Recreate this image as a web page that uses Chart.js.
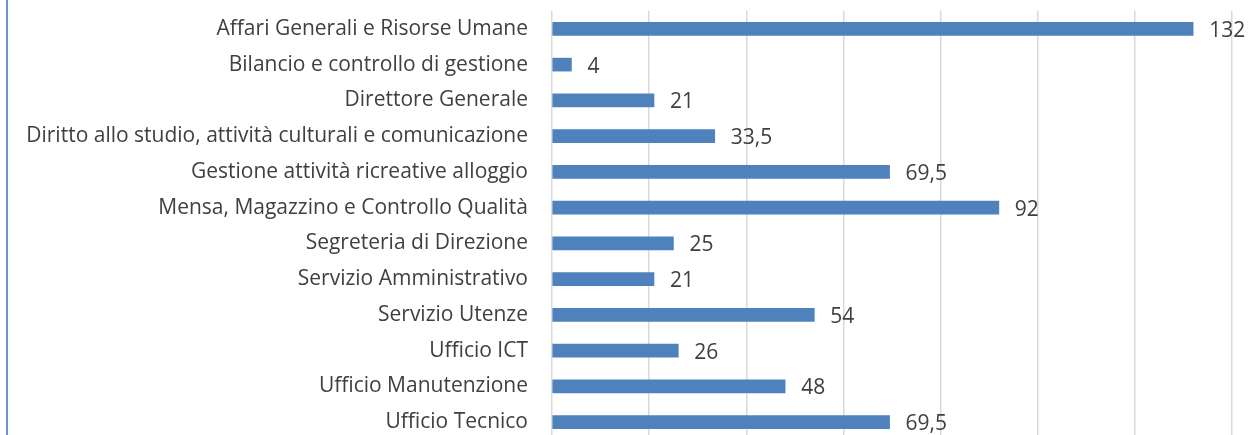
<!DOCTYPE html>
<html>
<head>
<meta charset="utf-8">
<script src="https://cdn.jsdelivr.net/npm/chart.js@4/dist/chart.umd.min.js"></script>
<style>
  html, body { margin: 0; padding: 0; background: #fff; overflow: hidden; }
  #wrap { width: 1248px; height: 441px; position: relative; }
</style>
</head>
<body>
<div id="wrap"><canvas id="myChart" width="1248" height="441"></canvas></div>
<script>
const categories = [
    'Affari Generali e Risorse Umane',
    'Bilancio e controllo di gestione',
    'Direttore Generale',
    'Diritto allo studio, attività culturali e comunicazione',
    'Gestione attività ricreative alloggio',
    'Mensa, Magazzino e Controllo Qualità',
    'Segreteria di Direzione',
    'Servizio Amministrativo',
    'Servizio Utenze',
    'Ufficio ICT',
    'Ufficio Manutenzione',
    'Ufficio Tecnico'
];
const values = [132, 4, 21, 33.5, 69.5, 92, 25, 21, 54, 26, 48, 69.5];

const FONT = '"Open Sans", sans-serif';
const FONT_SIZE = 21;
const TEXT = '#404040';

// value labels right of each bar, Italian decimal comma
const valueLabels = {
    id: 'valueLabels',
    afterDatasetsDraw(chart) {
        const ctx = chart.ctx;
        const meta = chart.getDatasetMeta(0);
        ctx.save();
        ctx.font = FONT_SIZE + 'px ' + FONT;
        ctx.fillStyle = TEXT;
        ctx.textAlign = 'left';
        ctx.textBaseline = 'middle';
        meta.data.forEach((bar, i) => {
            const txt = String(values[i]).replace('.', ',');
            ctx.fillText(txt, bar.x + 16, bar.y + 2);
        });
        ctx.restore();
    }
};

// thin blue frame line on the left edge
const leftEdge = {
    id: 'leftEdge',
    beforeDraw(chart) {
        const ctx = chart.ctx;
        ctx.save();
        ctx.fillStyle = '#6f93d0';
        ctx.fillRect(6, 0, 2, chart.height);
        ctx.restore();
    }
};

const ctx = document.getElementById('myChart').getContext('2d');
const myChart = new Chart(ctx, {
    type: 'bar',
    data: {
        labels: categories,
        datasets: [{
            data: values,
            backgroundColor: '#4f81bd',
            barThickness: 13
        }]
    },
    options: {
        indexAxis: 'y',
        responsive: false,
        animation: false,
        layout: { padding: { top: 11, right: 16, bottom: 1, left: 0 } },
        plugins: {
            legend: { display: false },
            tooltip: { enabled: false }
        },
        scales: {
            x: {
                min: 0,
                max: 140,
                ticks: { display: false, stepSize: 20 },
                grid: { color: '#d9d9d9', lineWidth: 1.5, drawTicks: false },
                border: { display: false },
                afterFit: (scale) => { scale.height = 0; }
            },
            y: {
                ticks: {
                    color: TEXT,
                    font: { family: FONT, size: FONT_SIZE },
                    padding: 24
                },
                grid: { display: false, drawTicks: false },
                border: { display: false },
                afterFit: (scale) => {
                    scale.width = 552;
                    scale.paddingTop = 0;
                    scale.paddingBottom = 0;
                }
            }
        }
    },
    plugins: [valueLabels, leftEdge]
});
</script>
</body>
</html>
